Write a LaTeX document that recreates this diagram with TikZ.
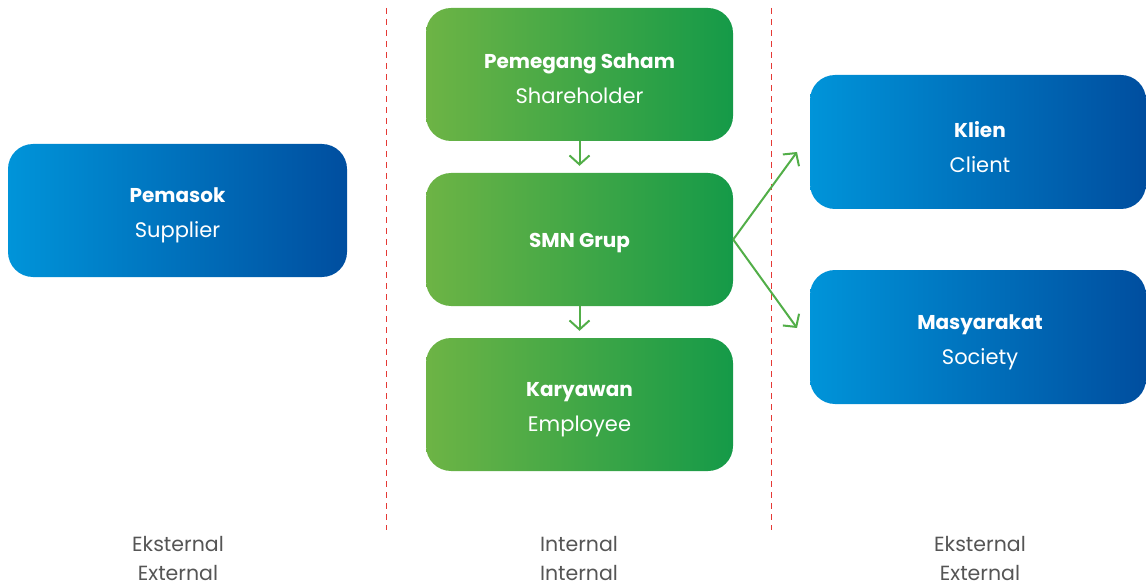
\documentclass[tikz,border=0pt]{standalone}
\usepackage{fontspec}
\setmainfont{Poppins}
\usetikzlibrary{arrows.meta,calc}
\definecolor{gL}{HTML}{6DB445}
\definecolor{gR}{HTML}{159A48}
\definecolor{bL}{HTML}{0094D9}
\definecolor{bR}{HTML}{004E9F}
\definecolor{arrg}{HTML}{52AE48}
\definecolor{dashred}{HTML}{E53935}
\definecolor{lbl}{HTML}{555555}
\newcommand{\bt}[1]{{\fontsize{20}{35}\selectfont\bfseries #1}}
\tikzset{
  box/.style={rounded corners=25pt, inner sep=0pt},
  gbox/.style={box, left color=gL, right color=gR, minimum width=307pt, minimum height=133pt},
  bbox/.style={box, left color=bL, right color=bR, minimum width=339pt, minimum height=133pt},
  rbox/.style={box, left color=bL, right color=bR, minimum width=336pt, minimum height=134pt},
  txt/.style={align=center, text=white, inner sep=0pt, font=\fontsize{21}{35}\selectfont},
  arr/.style={draw=arrg, line width=2pt, -{Straight Barb[length=9pt,width=20pt,line width=2pt]}},
  divider/.style={draw=dashred, line width=1pt, dash pattern=on 6pt off 5pt},
  foot/.style={align=center, text=lbl, inner sep=0pt, font=\fontsize{20.5}{29}\selectfont}
}
\begin{document}
\begin{tikzpicture}[x=1pt,y=-1pt]
\useasboundingbox (0,0) rectangle (1146,588);
% dividers
\coordinate (d1t) at (386,8); \coordinate (d1b) at (386,530);
\coordinate (d2t) at (771,8); \coordinate (d2b) at (771,530);
\draw[divider] (d1t) -- (d1b);
\draw[divider] (d2t) -- (d2b);
% boxes
\node[bbox] (sup) at (177.5,210.5) {};
\node[gbox] (sh) at (579.5,74.5) {};
\node[gbox] (smn) at (579.5,239.5) {};
\node[gbox] (emp) at (579.5,404.5) {};
\node[rbox] (cli) at (978,142) {};
\node[rbox] (soc) at (978,337) {};
% texts
\node[txt] (sup-t) at ($(sup)+(0,5)$) {\bt{Pemasok}\\Supplier};
\node[txt] (sh-t) at ($(sh)+(0,4)$) {\bt{Pemegang Saham}\\Shareholder};
\node[txt] (smn-t) at ($(smn)+(0,4)$) {\bt{SMN Grup}};
\node[txt] (emp-t) at ($(emp)+(0,5)$) {\bt{Karyawan}\\Employee};
\node[txt] (cli-t) at ($(cli)+(2,5)$) {\bt{Klien}\\Client};
\node[txt] (soc-t) at ($(soc)+(2,5)$) {\bt{Masyarakat}\\Society};
% arrows
\draw[arr, shorten >=7pt] (sh.south) -- (smn.north);
\draw[arr, shorten >=7pt] (smn.south) -- (emp.north);
\coordinate (tc) at (797,152);
\coordinate (ts) at (797,328);
\draw[arr] (smn.east) -- (tc);
\draw[arr] (smn.east) -- (ts);
% footers
\node[foot] (f1) at (178,559) {Eksternal\\External};
\node[foot] (f2) at (579,559) {Internal\\Internal};
\node[foot] (f3) at (980,559) {Eksternal\\External};
\end{tikzpicture}
\end{document}
